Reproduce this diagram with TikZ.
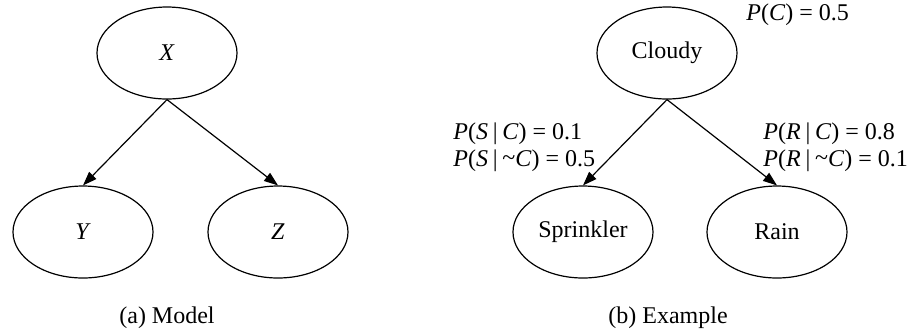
\documentclass[tikz,border=0pt]{standalone}
\usepackage{fontspec}
\setmainfont{Liberation Serif}
\usetikzlibrary{arrows.meta, positioning, shapes.geometric}
\newcommand{\pv}[1]{\textit{#1}}
\newcommand{\given}{\hspace{0.2em}|\hspace{0.2em}}
\newcommand{\nott}{\raisebox{0.1ex}{\textasciitilde}}
\tikzset{
  >={Triangle[length=7pt,width=5pt]},
  font=\fontsize{12}{13.5}\selectfont,
  var/.style={
    draw=black, ellipse, line width=0.6pt,
    minimum width=70pt, minimum height=46pt, inner sep=0pt
  },
  edge/.style={->, line width=0.6pt, draw=black},
  cpt/.style={align=left, inner sep=0pt, anchor=west},
  subcap/.style={inner sep=0pt}
}
\begin{document}
\begin{tikzpicture}[x=0.5pt, y=-0.5pt]
  \useasboundingbox (0,0) rectangle (911,334);
  % (a) model
  \node[var] (x) at (167,53) {\pv{X}};
  \node[var] (y) at (83,232) {\pv{Y}};
  \node[var] (z) at (278,232) {\pv{Z}};
  \draw[edge] (x.south) -- (y.north);
  \draw[edge] (x.south) -- (z.north);
  \node[subcap] (capa) at (167,318) {(a) Model};
  % (b) example
  \node[var] (cloudy) at (667,53) {Cloudy};
  \node[var] (sprinkler) at (583,232) {Sprinkler};
  \node[var] (rain) at (777,232) {Rain};
  \draw[edge] (cloudy.south) -- (sprinkler.north);
  \draw[edge] (cloudy.south) -- (rain.north);
  \node[cpt] (pc) at (746,15) {\pv{P}(\pv{C}) = 0.5};
  \node[cpt] (ps) at (453,147) {\pv{P}(\pv{S}\given\pv{C}) = 0.1\\
    \pv{P}(\pv{S}\given\nott\pv{C}) = 0.5};
  \node[cpt] (pr) at (763,147) {\pv{P}(\pv{R}\given\pv{C}) = 0.8\\
    \pv{P}(\pv{R}\given\nott\pv{C}) = 0.1};
  \node[subcap] (capb) at (668,318) {(b) Example};
\end{tikzpicture}
\end{document}
